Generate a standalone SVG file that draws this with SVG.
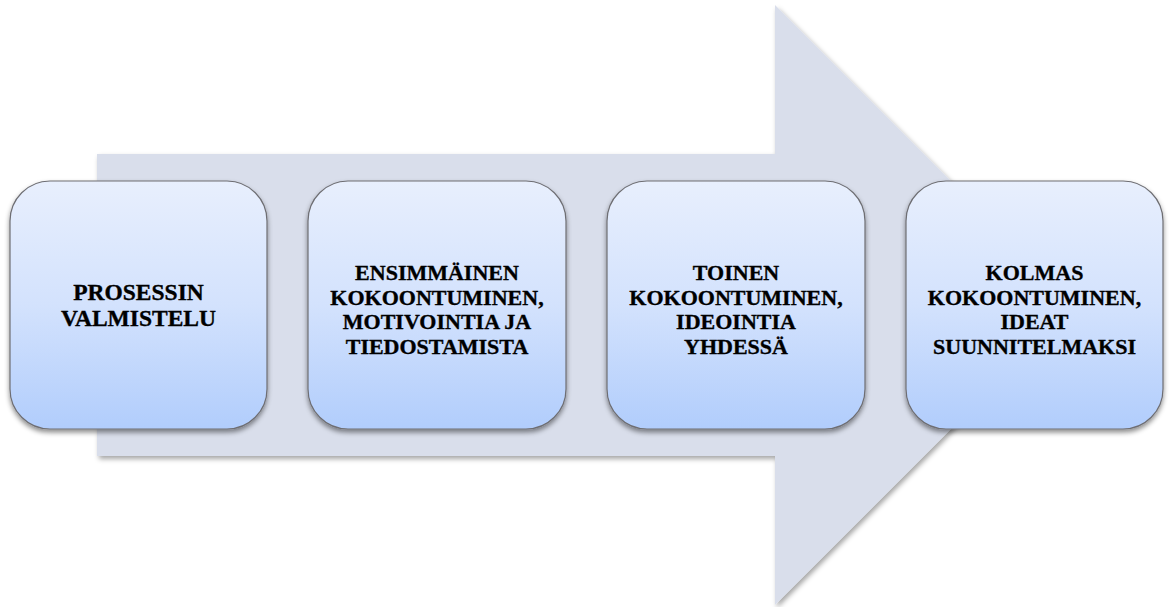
<svg xmlns="http://www.w3.org/2000/svg" width="1171" height="607" viewBox="0 0 1171 607">
  <defs>
    <linearGradient id="boxFill" x1="0" y1="0" x2="0" y2="1">
      <stop offset="0" stop-color="#e8effd"/>
      <stop offset="0.5" stop-color="#d3e2fd"/>
      <stop offset="1" stop-color="#b1cdfc"/>
    </linearGradient>
    <filter id="arrowShadow" x="-5%" y="-5%" width="115%" height="115%">
      <feDropShadow dx="2" dy="3" stdDeviation="2.5" flood-color="#000" flood-opacity="0.35"/>
    </filter>
    <filter id="boxShadow" x="-10%" y="-10%" width="120%" height="125%">
      <feDropShadow dx="0" dy="3" stdDeviation="2.5" flood-color="#000" flood-opacity="0.45"/>
    </filter>
  </defs>
  <style>
    .box { fill: url(#boxFill); stroke: #6e6e73; stroke-width: 1.2; filter: url(#boxShadow); }
    .lbl { font-family: "Liberation Serif", "Times New Roman", serif; font-weight: bold; font-size: 22px; fill: #000; stroke: #000; stroke-width: 0.35; text-anchor: middle; }
    .big { font-size: 23.5px; }
  </style>
  <rect width="1171" height="607" fill="#ffffff"/>
  <g id="connectors">
    <path id="arrow" d="M97,154 L775,154 L775,5 L1075,305 L775,605 L775,456 L97,456 Z" fill="#d9deeb" filter="url(#arrowShadow)"/>
  </g>
  <g id="node1">
    <rect class="box" x="10" y="181" width="257" height="248" rx="40" ry="40"/>
    <text class="lbl big"><tspan x="138.5" y="300">PROSESSIN</tspan><tspan x="138.5" y="326">VALMISTELU</tspan></text>
  </g>
  <g id="node2">
    <rect class="box" x="308" y="181" width="258" height="248" rx="40" ry="40"/>
    <text class="lbl"><tspan x="437" y="280">ENSIMMÄINEN</tspan><tspan x="437" y="305">KOKOONTUMINEN,</tspan><tspan x="437" y="329">MOTIVOINTIA JA</tspan><tspan x="437" y="354">TIEDOSTAMISTA</tspan></text>
  </g>
  <g id="node3">
    <rect class="box" x="607" y="181" width="258" height="248" rx="40" ry="40"/>
    <text class="lbl"><tspan x="736" y="280">TOINEN</tspan><tspan x="736" y="305">KOKOONTUMINEN,</tspan><tspan x="736" y="329">IDEOINTIA</tspan><tspan x="736" y="354">YHDESSÄ</tspan></text>
  </g>
  <g id="node4">
    <rect class="box" x="906" y="181" width="257" height="248" rx="40" ry="40"/>
    <text class="lbl"><tspan x="1034.5" y="280">KOLMAS</tspan><tspan x="1034.5" y="305">KOKOONTUMINEN,</tspan><tspan x="1034.5" y="329">IDEAT</tspan><tspan x="1034.5" y="354">SUUNNITELMAKSI</tspan></text>
  </g>
</svg>
